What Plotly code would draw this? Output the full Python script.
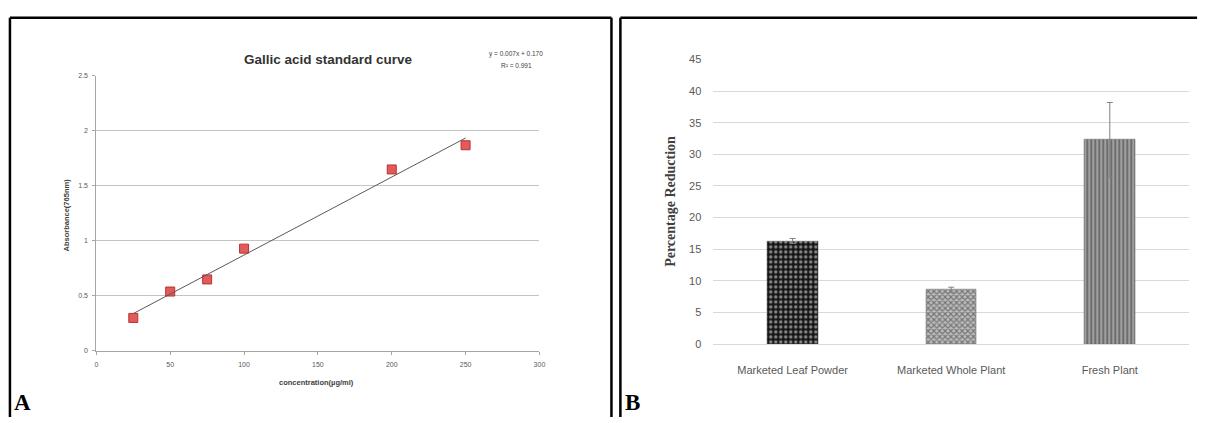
import numpy as np
import plotly.graph_objects as go

# ---------------- Data ----------------
# Panel A: Gallic acid standard curve
conc = [25, 50, 75, 100, 200, 250]
absorb = [0.30, 0.54, 0.65, 0.93, 1.65, 1.87]
equation_text = "y = 0.007x + 0.170"
r2_text = "R² = 0.991"

# Panel B: Percentage reduction
categories = ["Marketed Leaf Powder", "Marketed Whole Plant", "Fresh Plant"]
reduction = [16.3, 8.6, 32.3]
reduction_err = [0.4, 0.4, 5.9]

W, H = 1213, 423
def px(x):
    return x / W
def py(y):
    return 1 - y / H

fig = go.Figure()

# Panel A scatter
fig.add_trace(go.Scatter(
    x=conc, y=absorb, mode="markers", xaxis="x", yaxis="y",
    marker=dict(symbol="square", size=9, color="#e35a5a",
                line=dict(color="#b83232", width=1)),
    showlegend=False, hoverinfo="x+y"))

# Linear trend line fitted from the data
slope, intercept = np.polyfit(conc, absorb, 1)
tx = [min(conc), max(conc)]
ty = [slope * v + intercept for v in tx]
fig.add_trace(go.Scatter(
    x=tx, y=ty, mode="lines", xaxis="x", yaxis="y",
    line=dict(color="#595959", width=1), showlegend=False, hoverinfo="skip"))

# Panel B bars with patterns
patterns = [
    dict(shape=".", fgcolor="#ffffff", bgcolor="#141414", size=5, solidity=0.35),
    dict(shape="x", fgcolor="#2e2e2e", bgcolor="#bdbdbd", size=4, solidity=0.5),
    dict(shape="|", fgcolor="#3c3c3c", bgcolor="#a0a0a0", size=4, solidity=0.5),
]
for i, cat in enumerate(categories):
    fig.add_trace(go.Bar(
        x=[cat], y=[reduction[i]], xaxis="x2", yaxis="y2", width=0.32,
        marker=dict(color="#555555", pattern=patterns[i],
                    line=dict(color="#666666", width=0.5)),
        error_y=dict(type="data", array=[reduction_err[i]], visible=True,
                     color="#808080", thickness=1, width=3),
        showlegend=False))

tick_gray = "#595959"
fig.update_layout(
    width=W, height=H,
    margin=dict(l=0, r=0, t=0, b=0),
    paper_bgcolor="white", plot_bgcolor="white",
    font=dict(family="Liberation Sans, Arial, sans-serif", color=tick_gray),
    bargap=0,
    xaxis=dict(domain=[px(95), px(541)], range=[0, 300], dtick=50,
               showgrid=False, zeroline=False, showline=True,
               linecolor="#a6a6a6", linewidth=1,
               ticks="outside", ticklen=3, tickcolor="#a6a6a6",
               tickfont=dict(size=7, color=tick_gray), ticklabelstandoff=4,
               anchor="y"),
    yaxis=dict(domain=[py(355), py(72)], range=[0, 2.5], dtick=0.5,
               showgrid=True, gridcolor="#c4c4c4", gridwidth=1,
               zeroline=False, showline=True, linecolor="#a6a6a6", linewidth=1,
               ticks="outside", ticklen=3, tickcolor="#a6a6a6",
               tickfont=dict(size=7, color=tick_gray), ticklabelstandoff=3,
               anchor="x"),
    xaxis2=dict(domain=[px(716), px(1195)], range=[-0.5, 2.5],
                showgrid=False, zeroline=False, showline=True,
                linecolor="#d9d9d9", linewidth=1, ticks="",
                tickfont=dict(size=11, color=tick_gray), ticklabelstandoff=16,
                anchor="y2", categoryorder="array", categoryarray=categories),
    yaxis2=dict(domain=[py(348), py(55)], range=[0, 45], dtick=5,
                showgrid=True, gridcolor="#d9d9d9", gridwidth=1,
                zeroline=False, showline=False, ticks="",
                tickfont=dict(size=11, color=tick_gray), ticklabelstandoff=11,
                anchor="x2"),
)

annotations = [
    dict(text="<b>Gallic acid standard curve</b>", x=px(329), y=py(55),
         font=dict(size=13.5, color="#333333")),
    dict(text=equation_text, x=px(517), y=py(49), font=dict(size=6.5, color="#404040")),
    dict(text=r2_text, x=px(518), y=py(61), font=dict(size=6.5, color="#404040")),
    dict(text="<b>Absorbance(765nm)</b>", x=px(65), y=py(215), textangle=-90,
         font=dict(size=7.5, color="#404040")),
    dict(text="<b>concentration(µg/ml)</b>", x=px(317), y=py(388),
         font=dict(size=7.5, color="#404040")),
    dict(text="<b>Percentage Reduction</b>", x=px(673), y=py(201), textangle=-90,
         font=dict(size=14, color="#404040", family="Liberation Serif, serif")),
    dict(text="<b>A</b>", x=px(10), y=py(408), xanchor="left",
         font=dict(size=23, color="black", family="Liberation Serif, Times New Roman, serif")),
    dict(text="<b>B</b>", x=px(625), y=py(408), xanchor="left",
         font=dict(size=23, color="black", family="Liberation Serif, Times New Roman, serif")),
]
for a in annotations:
    a.setdefault("xanchor", "center")
    a.update(xref="paper", yref="paper", yanchor="middle", showarrow=False)
fig.update_layout(annotations=annotations)

# Panel frames
border = dict(color="black", width=2.5)
shapes = [
    # panel A
    dict(type="line", x0=px(8), x1=px(8), y0=py(12), y1=0, line=border),
    dict(type="line", x0=px(8), x1=px(613.5), y0=py(12), y1=py(12), line=border),
    dict(type="line", x0=px(613.5), x1=px(613.5), y0=py(12), y1=0, line=border),
    # panel B
    dict(type="line", x0=px(622.5), x1=px(622.5), y0=py(12), y1=0, line=border),
    dict(type="line", x0=px(622.5), x1=px(1203), y0=py(12), y1=py(12), line=border),
]
for s in shapes:
    s.update(xref="paper", yref="paper", layer="above")
fig.update_layout(shapes=shapes)

fig.write_html("out.html",
               config={"displayModeBar": False},
               post_script="document.body.style.margin='0';document.body.style.overflow='hidden';")
